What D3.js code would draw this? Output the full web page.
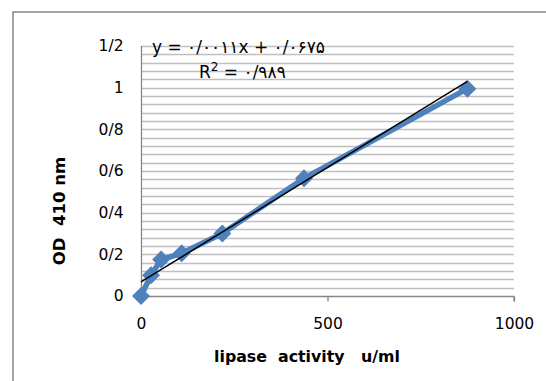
<!DOCTYPE html>
<html>
<head>
<meta charset="utf-8">
<script src="https://cdn.jsdelivr.net/npm/d3@7"></script>
<style>
  html, body { margin: 0; padding: 0; background: #fff; }
  svg { display: block; }
  text { white-space: pre; }
</style>
</head>
<body>
<svg id="chart" width="546" height="381"></svg>
<script>
// ---- data ----
const activity = [0, 27, 54, 109, 218, 437, 875];          // lipase activity u/ml
const od410 = [0, 0.10, 0.175, 0.205, 0.30, 0.565, 0.995];   // OD 410 nm
const trendSlope = 0.0011;
const trendIntercept = 0.0675;
const xTicks = [0, 500, 1000];
const xTickLabels = ["0", "500", "1000"];
const yTicks = [0, 0.2, 0.4, 0.6, 0.8, 1.0, 1.2];
const yTickLabels = ["0", "0/2", "0/4", "0/6", "0/8", "1", "1/2"];
const yGridStep = 0.04;
const equationText = "y = ۰/۰۰۱۱x + ۰/۰۶۷۵";
const r2Value = " = ۰/۹۸۹";
const xTitle = "lipase  activity   u/ml";
const yTitle = "OD  410 nm";

// ---- layout ----
const svg = d3.select("#chart");
const L = 141, R = 514, T = 46, B = 296;
const x = d3.scaleLinear().domain([0, 1000]).range([L, R]);
const y = d3.scaleLinear().domain([0, 1.2]).range([B, T]);
const font = "'DejaVu Sans', 'Liberation Sans', sans-serif";

// outer chart border
svg.append("rect")
  .attr("x", 13).attr("y", 12).attr("width", 560).attr("height", 400)
  .attr("fill", "#fff").attr("stroke", "#868686").attr("stroke-width", 1.5);

// gridlines
const gridVals = d3.range(1, Math.round(1.2 / yGridStep) + 1).map(i => i * yGridStep);
svg.append("g").selectAll("line").data(gridVals).join("line")
  .attr("x1", L).attr("x2", R)
  .attr("y1", d => Math.round(y(d)) + 0.5).attr("y2", d => Math.round(y(d)) + 0.5)
  .attr("stroke", "#c0c0c0").attr("stroke-width", 1.3);

// x axis
const xAxis = d3.axisBottom(x).tickValues(xTicks).tickFormat((d, i) => xTickLabels[i]).tickSize(5).tickPadding(16);
const gx = svg.append("g").attr("transform", `translate(0,${B + 0.5})`).call(xAxis);
gx.select(".domain").attr("stroke", "#868686").attr("stroke-width", 1.3).attr("d", `M${L},5V0H${R}V5`);
gx.selectAll(".tick line").attr("stroke", "#868686").attr("stroke-width", 1.3);
gx.selectAll(".tick text").attr("font-family", font).attr("font-size", 15.5).attr("fill", "#000");

// y axis
const yAxis = d3.axisLeft(y).tickValues(yTicks).tickFormat((d, i) => yTickLabels[i]).tickSize(0).tickPadding(18);
const gy = svg.append("g").attr("transform", `translate(${L + 0.5},0)`).call(yAxis);
gy.select(".domain").attr("stroke", "#868686").attr("stroke-width", 1.3).attr("d", `M0,${B}V${T}`);
gy.selectAll(".tick text").attr("font-family", font).attr("font-size", 15.5).attr("fill", "#000");

// series line
const pts = activity.map((a, i) => [a, od410[i]]);
svg.append("path").datum(pts)
  .attr("d", d3.line().x(d => x(d[0])).y(d => y(d[1])))
  .attr("fill", "none").attr("stroke", "#4f81bd").attr("stroke-width", 5.5)
  .attr("stroke-linejoin", "round");

// markers (diamonds)
svg.append("g").selectAll("path").data(pts).join("path")
  .attr("transform", d => `translate(${x(d[0])},${y(d[1])})`)
  .attr("d", "M0,-9L9,0L0,9L-9,0Z")
  .attr("fill", "#4f81bd");

// trendline
const xMax = d3.max(activity);
svg.append("line")
  .attr("x1", x(0)).attr("y1", y(trendIntercept))
  .attr("x2", x(xMax)).attr("y2", y(trendIntercept + trendSlope * xMax))
  .attr("stroke", "#000").attr("stroke-width", 1.5);

// equation labels
svg.append("text").attr("x", 152).attr("y", 53)
  .attr("font-family", font).attr("font-size", 17).attr("direction", "ltr")
  .text(equationText);
const r2 = svg.append("text").attr("x", 199).attr("y", 78)
  .attr("font-family", font).attr("font-size", 17).attr("direction", "ltr");
r2.append("tspan").text("R");
r2.append("tspan").attr("baseline-shift", "super").attr("font-size", 12).text("2");
r2.append("tspan").text(r2Value);

// axis titles
svg.append("text").attr("x", 307).attr("y", 362).attr("text-anchor", "middle")
  .attr("font-family", font).attr("font-size", 15.8).attr("font-weight", "bold")
  .text(xTitle);
svg.append("text").attr("transform", "translate(65,211) rotate(-90)").attr("text-anchor", "middle")
  .attr("font-family", font).attr("font-size", 16.5).attr("font-weight", "bold")
  .text(yTitle);
</script>
</body>
</html>
